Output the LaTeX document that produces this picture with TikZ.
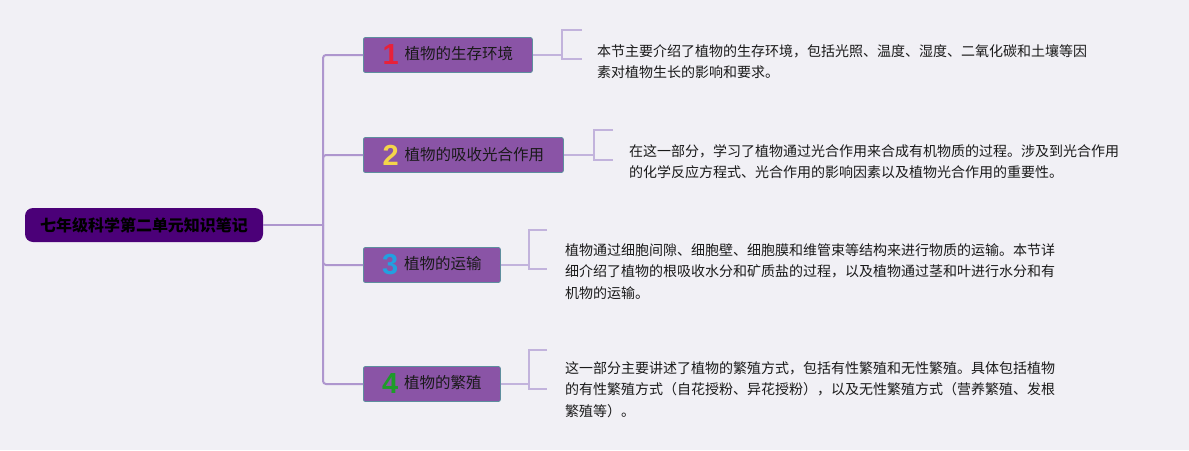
\documentclass[tikz,border=0pt]{standalone}
\usepackage{fontspec}
\setmainfont{Noto Sans CJK SC}
\newfontfamily\numfont{Liberation Sans}
\definecolor{bgc}{HTML}{F1F0F5}
\definecolor{rootc}{HTML}{4B0078}
\definecolor{topicc}{HTML}{8A54A6}
\definecolor{topicb}{HTML}{5E8E9E}
\definecolor{lnc}{HTML}{AE96CE}
\definecolor{brc}{HTML}{C2B3DC}
\definecolor{txtc}{HTML}{1A1A1A}
\definecolor{nred}{HTML}{E8213A}
\definecolor{nyel}{HTML}{F3D54A}
\definecolor{nblu}{HTML}{22A0E0}
\definecolor{ngrn}{HTML}{1E9B2A}
\newcommand\tnum[2]{\raisebox{-5pt}{\numfont\bfseries\fontsize{29}{29}\selectfont\textcolor{#1}{#2}}\hspace{6pt}}
\tikzset{
  rootbox/.style={fill=rootc, rounded corners=8pt, minimum width=238pt, minimum height=34pt, inner sep=0pt, text=black, font=\fontsize{16}{16}\selectfont\bfseries},
  topic/.style={fill=topicc, draw=topicb, line width=0.8pt, rounded corners=2pt, minimum height=35pt, inner sep=0pt, anchor=west, text=txtc, font=\fontsize{15.5}{15.5}\selectfont},
  trunk/.style={draw=lnc, line width=2pt},
  brk/.style={draw=brc, line width=1.8pt},
  desc/.style={anchor=base west, align=left, text width=560pt, inner sep=0pt, text=txtc, font=\fontsize{14}{21.5}\selectfont}
}
\begin{document}
\begin{tikzpicture}[x=1pt,y=-1pt]
\useasboundingbox (0,0) rectangle (1189,450);
\fill[bgc] (0,0) rectangle (1189,450);

\node[rootbox] (root) at (144,225) {七年级科学第二单元知识笔记};

\node[topic, minimum width=169pt] (t1) at (363,55) {\tnum{nred}{1}植物的生存环境};
\node[topic, minimum width=200pt] (t2) at (363,155) {\tnum{nyel}{2}植物的吸收光合作用};
\node[topic, minimum width=137pt] (t3) at (363,265) {\tnum{nblu}{3}植物的运输};
\node[topic, minimum width=137pt] (t4) at (363,384) {\tnum{ngrn}{4}植物的繁殖};

\coordinate (tr) at (323,225);
\draw[trunk] (root.east) -- (tr);
\foreach \t in {t1,t2,t3,t4}{
  \draw[trunk, rounded corners=3pt] (tr) |- (\t.west);
}

\coordinate (b1) at (562,30);
\coordinate (b2) at (594,130);
\coordinate (b3) at (529,230);
\coordinate (b4) at (529,350);

\draw[brk] (t1.east) -- (t1.east -| b1);
\draw[brk] ([xshift=20pt]b1) -- (b1) -- ++(0,29) -- ++(20,0);
\draw[brk] (t2.east) -- (t2.east -| b2);
\draw[brk] ([xshift=19pt]b2) -- (b2) -- ++(0,30) -- ++(19,0);
\draw[brk] (t3.east) -- (t3.east -| b3);
\draw[brk] ([xshift=18pt]b3) -- (b3) -- ++(0,39) -- ++(18,0);
\draw[brk] (t4.east) -- (t4.east -| b4);
\draw[brk] ([xshift=18pt]b4) -- (b4) -- ++(0,39) -- ++(18,0);

\node[desc] (d1) at (597,56) {本节主要介绍了植物的生存环境，包括光照、温度、湿度、二氧化碳和土壤等因\\素对植物生长的影响和要求。};
\node[desc] (d2) at (629,156) {在这一部分，学习了植物通过光合作用来合成有机物质的过程。涉及到光合作用\\的化学反应方程式、光合作用的影响因素以及植物光合作用的重要性。};
\node[desc] (d3) at (565,255) {植物通过细胞间隙、细胞壁、细胞膜和维管束等结构来进行物质的运输。本节详\\细介绍了植物的根吸收水分和矿质盐的过程，以及植物通过茎和叶进行水分和有\\机物的运输。};
\node[desc] (d4) at (565,373) {这一部分主要讲述了植物的繁殖方式，包括有性繁殖和无性繁殖。具体包括植物\\的有性繁殖方式（自花授粉、异花授粉），以及无性繁殖方式（营养繁殖、发根\\繁殖等）。};
\end{tikzpicture}
\end{document}
